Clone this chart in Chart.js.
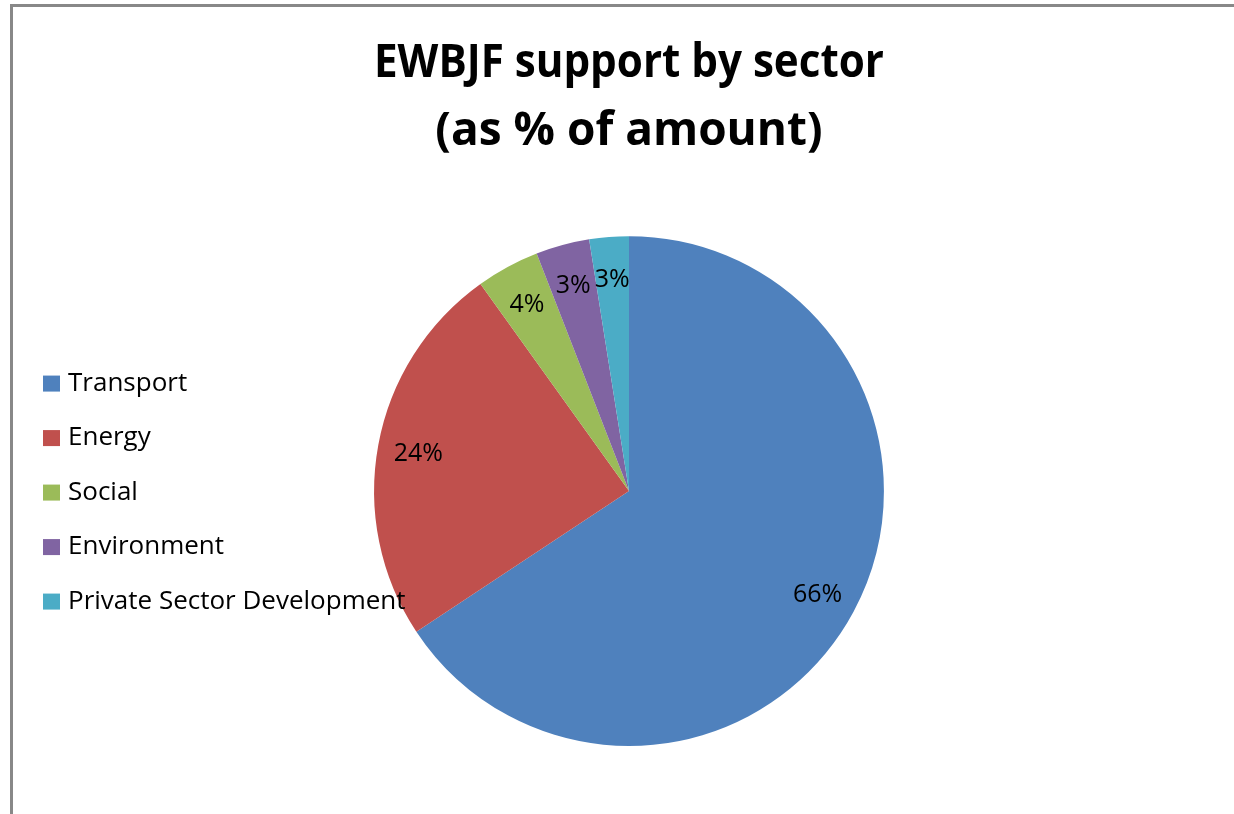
<!DOCTYPE html>
<html>
<head>
<meta charset="utf-8">
<script src="https://cdn.jsdelivr.net/npm/chart.js@4.4.0/dist/chart.umd.min.js"></script>
<style>
    html, body { margin: 0; padding: 0; background: #fff; }
    #wrap { position: relative; width: 1234px; height: 814px; }
    #frame { position: absolute; left: 10px; top: 4px; right: 0; bottom: 0;
             border-top: 3px solid #888; border-left: 3px solid #888; pointer-events: none; }
</style>
</head>
<body>
<div id="wrap">
    <canvas id="pie" width="1234" height="814"></canvas>
    <div id="frame"></div>
</div>
<script>
    var sectors = ['Transport', 'Energy', 'Social', 'Environment', 'Private Sector Development'];
    var shares = [65.7, 24.4, 4.0, 3.4, 2.5];
    var colors = ['#4F81BD', '#C0504D', '#9BBB59', '#8064A2', '#4BACC6'];
    var titleLines = ['EWBJF support by sector', '(as % of amount)'];

    var FONT = "'Open Sans', 'DejaVu Sans', sans-serif";

    // percent labels inside the slices
    var sliceLabels = {
        id: 'sliceLabels',
        afterDatasetsDraw: function(chart) {
            var ctx = chart.ctx;
            var meta = chart.getDatasetMeta(0);
            ctx.save();
            ctx.font = '25px ' + FONT;
            ctx.fillStyle = '#000';
            ctx.textAlign = 'center';
            ctx.textBaseline = 'middle';
            meta.data.forEach(function(arc, i) {
                var p = arc.getProps(['x', 'y', 'startAngle', 'endAngle', 'outerRadius'], true);
                var mid = (p.startAngle + p.endAngle) / 2;
                var r = p.outerRadius * 0.84;
                ctx.fillText(Math.round(chart.data.datasets[0].data[i]) + '%',
                    p.x + Math.cos(mid) * r, p.y + Math.sin(mid) * r + 2);
            });
            ctx.restore();
        }
    };

    // legend drawn on the left, overlapping the pie box like the original
    var sideLegend = {
        id: 'sideLegend',
        afterDraw: function(chart) {
            var ctx = chart.ctx;
            var n = chart.data.labels.length;
            var rowGap = 54.5;
            var y0 = chart.chartArea.top + (chart.chartArea.bottom - chart.chartArea.top) / 2 - rowGap * (n - 1) / 2 + 1.5;
            ctx.save();
            ctx.font = '26px ' + FONT;
            ctx.textBaseline = 'middle';
            chart.data.labels.forEach(function(lbl, i) {
                var y = y0 + i * rowGap;
                ctx.fillStyle = chart.data.datasets[0].backgroundColor[i];
                ctx.fillRect(43, y - 8, 17, 16);
                ctx.fillStyle = '#000';
                ctx.fillText(lbl, 68, y);
            });
            ctx.restore();
        }
    };

    new Chart(document.getElementById('pie'), {
        type: 'pie',
        data: {
            labels: sectors,
            datasets: [{
                data: shares,
                backgroundColor: colors,
                borderWidth: 0
            }]
        },
        options: {
            responsive: false,
            animation: false,
            layout: { padding: { left: 374, right: 350, top: 0, bottom: 68 } },
            plugins: {
                legend: { display: false },
                tooltip: { enabled: false },
                title: {
                    display: true,
                    text: titleLines,
                    color: '#000',
                    font: { family: FONT, size: 46, weight: 'bold', lineHeight: 1.48 },
                    padding: { top: 30, bottom: 70 }
                }
            }
        },
        plugins: [sliceLabels, sideLegend]
    });
</script>
</body>
</html>
